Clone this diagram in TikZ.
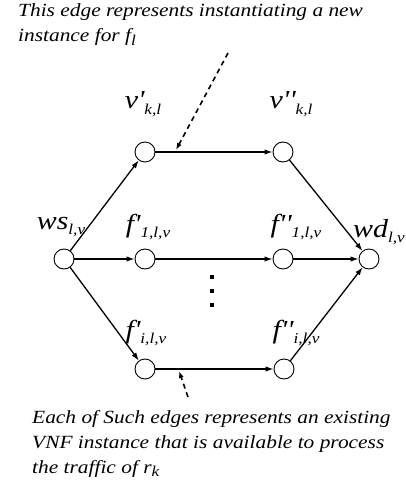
\documentclass[tikz,border=0pt]{standalone}
\usepackage{fontspec}
\setmainfont{Liberation Serif}
\newfontfamily\notefont[FakeStretch=1.15]{Liberation Serif}
\usetikzlibrary{arrows.meta}

% vertex label: letter, primes, lowered index
\newcommand{\vlab}[3]{#1#2\raisebox{-0.45ex}{\fontsize{15}{15}\selectfont #3}}

\begin{document}
\begin{tikzpicture}[x=1pt,y=1pt,
  vertex/.style={circle,draw,line width=0.9pt,minimum size=20pt,inner sep=0pt},
  edge/.style={line width=1.3pt,-{Latex[length=8pt,width=5.5pt]}},
  pointer/.style={line width=1.6pt,dash pattern=on 5pt off 4pt,-{Latex[length=7pt,width=5pt]}},
  lbl/.style={inner sep=0pt,font=\notefont\itshape\fontsize{26}{26}\selectfont},
  note/.style={inner sep=0pt,anchor=base west,align=left,font=\notefont\itshape\fontsize{18.6}{25}\selectfont}]
\useasboundingbox (0,0) rectangle (406,-484);
% vertices
\node[vertex] (ws) at (64,-259) {};
\node[vertex] (vp) at (145,-152) {};
\node[vertex] (vpp) at (283,-152) {};
\node[vertex] (fp1) at (145,-259) {};
\node[vertex] (fpp1) at (283,-259) {};
\node[vertex] (fpi) at (145,-369) {};
\node[vertex] (fppi) at (284,-369) {};
\node[vertex] (wd) at (369,-259) {};
% labels
\node[lbl] (ws-l) at (61,-227) {\vlab{ws}{}{l,v}};
\node[lbl] (vp-l) at (143,-104) {\vlab{v}{'}{k,l}};
\node[lbl] (vpp-l) at (291,-104) {\vlab{v}{''}{k,l}};
\node[lbl] (fp1-l) at (148,-227) {\vlab{f}{'}{1,l,v}};
\node[lbl] (fpp1-l) at (296,-227) {\vlab{f}{''}{1,l,v}};
\node[lbl] (fpi-l) at (146,-333) {\vlab{f}{'}{i,l,v}};
\node[lbl] (fppi-l) at (296,-333) {\vlab{f}{''}{i,l,v}};
\node[lbl,anchor=east] (wd-l) at (405,-232) {\vlab{wd}{}{l,v}};
% edges
\draw[edge] (ws) -- (vp);
\draw[edge] (vp) -- (vpp);
\draw[edge] (vpp) -- (wd);
\draw[edge] (ws) -- (fp1);
\draw[edge] (fp1) -- (fpp1);
\draw[edge] (fpp1) -- (wd);
\draw[edge] (ws) -- (fpi);
\draw[edge] (fpi) -- (fppi);
\draw[edge] (fppi) -- (wd);
% vertical dots
\foreach \y in {277,291,305}
  \fill (210,-\y+2) rectangle +(4,-4);
% notes (anchored at the baseline of the last line)
\node[note] (newnote) at (18,-42) {This edge represents instantiating a new\\instance for \vlab{f}{}{l}};
\node[note] (oldnote) at (32,-473) {Each of Such edges represents an existing\\VNF instance that is available to process\\the traffic of \vlab{r}{}{k}};
\coordinate (newtail) at (228,-53);
\coordinate (newtip) at (176,-150);
\coordinate (oldtail) at (188,-397);
\coordinate (oldtip) at (179,-371);
\draw[pointer] (newtail) -- (newtip);
\draw[pointer] (oldtail) -- (oldtip);
\end{tikzpicture}
\end{document}
